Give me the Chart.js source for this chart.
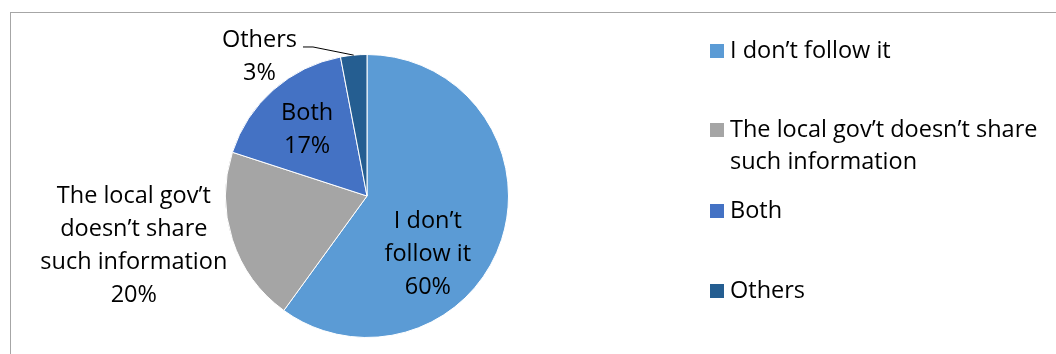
<!DOCTYPE html>
<html>
<head>
<meta charset="utf-8">
<script src="https://cdn.jsdelivr.net/npm/chart.js@4"></script>
<style>
  body { margin: 0; background: #fff; }
  #wrap { position: relative; width: 1056px; height: 354px; overflow: hidden; }
  #frame { position: absolute; left: 10px; top: 12px; width: 1100px; height: 400px;
           border-left: 1px solid #a6a6a6; border-top: 1px solid #a6a6a6; }
  #myChart { position: absolute; left: 0; top: 0; }
</style>
</head>
<body>
<div id="wrap">
  <div id="frame"></div>
  <canvas id="myChart" width="1056" height="354"></canvas>
</div>
<script>
const categories = ["I don\u2019t follow it", "The local gov\u2019t doesn\u2019t share such information", "Both", "Others"];
const values = [60, 20, 17, 3];
const colors = ["#5b9bd5", "#a5a5a5", "#4472c4", "#255e91"];

// line breaks used for the slice labels and the legend
const sliceLines = [["I don\u2019t", "follow it"], ["The local gov\u2019t", "doesn\u2019t share", "such information"], ["Both"], ["Others"]];
const legendLines = [["I don\u2019t follow it"], ["The local gov\u2019t doesn\u2019t share", "such information"], ["Both"], ["Others"]];

const FONT = '23.5px "Open Sans", sans-serif';
const LINE_H = 33;

// label anchor as fraction of radius from pie centre
const labelPos = [[0.43, 0.415], [-1.648, 0.352], [-0.423, -0.465], [-0.76, -0.986]];
const legendY = [51, 130, 211, 291];

const labelsPlugin = {
  id: 'pieLabels',
  afterDatasetsDraw(chart) {
    const ctx = chart.ctx;
    const arcs = chart.getDatasetMeta(0).data;
    const total = values.reduce((a, b) => a + b, 0);
    ctx.save();
    ctx.font = FONT;
    ctx.fillStyle = '#000';
    ctx.textAlign = 'center';
    ctx.textBaseline = 'middle';
    arcs.forEach((arc, i) => {
      const r = arc.outerRadius;
      const cx = arc.x + labelPos[i][0] * r;
      const cy = arc.y + labelPos[i][1] * r;
      const lines = sliceLines[i].concat([Math.round(values[i] / total * 100) + '%']);
      const top = cy - (lines.length - 1) * LINE_H / 2;
      lines.forEach((t, k) => ctx.fillText(t, cx, top + k * LINE_H));
    });
    // leader line for the small slice
    const a = arcs[3];
    const mid = (a.startAngle + a.endAngle) / 2;
    const ex = a.x + Math.cos(mid) * a.outerRadius;
    const ey = a.y + Math.sin(mid) * a.outerRadius;
    const lx = a.x + labelPos[3][0] * a.outerRadius;
    const ly = a.y + labelPos[3][1] * a.outerRadius - LINE_H / 2;
    const w = ctx.measureText(sliceLines[3][0]).width;
    ctx.strokeStyle = '#000';
    ctx.lineWidth = 1;
    ctx.beginPath();
    ctx.moveTo(ex, ey);
    ctx.lineTo(lx + w / 2 + 16, ly + 7);
    ctx.lineTo(lx + w / 2 + 6, ly + 7);
    ctx.stroke();

    // legend
    ctx.textAlign = 'left';
    legendLines.forEach((lines, i) => {
      const y = legendY[i];
      ctx.fillStyle = colors[i];
      ctx.fillRect(710, y - 7, 14, 14);
      ctx.fillStyle = '#000';
      lines.forEach((t, k) => ctx.fillText(t, 730, y + k * 32));
    });
    ctx.restore();
  }
};

const ctx1 = document.getElementById('myChart');
new Chart(ctx1, {
  type: 'pie',
  data: {
    labels: categories,
    datasets: [{
      data: values,
      backgroundColor: colors,
      borderColor: '#ffffff',
      borderWidth: 1
    }]
  },
  options: {
    responsive: false,
    devicePixelRatio: 1,
    animation: false,
    layout: { padding: { left: 225, right: 547, top: 54, bottom: 16 } },
    plugins: {
      legend: { display: false },
      tooltip: { enabled: false }
    }
  },
  plugins: [labelsPlugin]
});
</script>
</body>
</html>
